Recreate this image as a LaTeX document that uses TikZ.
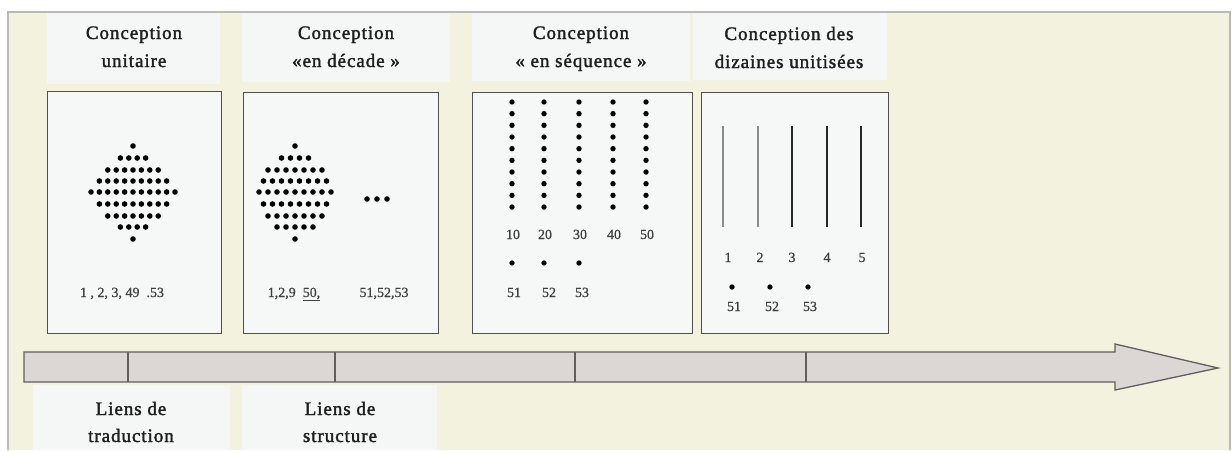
\documentclass[tikz,border=0pt]{standalone}
\usepackage{fontspec}
\setmainfont{Liberation Serif}
\newfontfamily\ttlfont{Liberation Serif}[LetterSpace=5,FakeBold=1.8]
\newfontfamily\lblfont{Liberation Serif}[FakeBold=0.8]
\definecolor{cream}{RGB}{243,242,222}
\definecolor{boxfill}{RGB}{245,247,246}
\definecolor{panelfill}{RGB}{246,248,247}
\definecolor{panelline}{RGB}{80,80,80}
\definecolor{framegrey}{RGB}{185,185,185}
\definecolor{arrowfill}{RGB}{220,214,212}
\definecolor{arrowline}{RGB}{95,95,95}
\begin{document}
\begin{tikzpicture}[x=1pt,y=-1pt,
  ttl/.style={anchor=base,inner sep=0pt,font=\ttlfont\fontsize{19}{22}\selectfont,text=black!88},
  lbl/.style={anchor=base,inner sep=0pt,font=\lblfont\fontsize{14}{16}\selectfont,text=black!75},
  hbox/.style={draw=none,fill=boxfill,inner sep=0pt,anchor=north west},
  panel/.style={draw=panelline,line width=1.3pt,fill=panelfill,inner sep=0pt,anchor=north west},
  dot/.style={fill=black},
  tick/.style={draw=arrowline,line width=1.3pt},
  thinbar/.style={draw=black!45,line width=1.6pt},
  thickbar/.style={draw=black!85,line width=2.4pt}]
\useasboundingbox (0,0) rectangle (1232,450);
% background and frame
\fill[white] (0,0) rectangle (1232,450);
\fill[cream] (8,12) rectangle (1230,450);
\draw[framegrey,line width=1.5pt] (8,450) -- (8,12) -- (1230,12) -- (1230,450);

% title boxes
\node[hbox,minimum width=173pt,minimum height=71pt] (t1) at (47,13) {};
\node[hbox,minimum width=208pt,minimum height=69pt] (t2) at (242,13) {};
\node[hbox,minimum width=218pt,minimum height=68pt] (t3) at (472,13) {};
\node[hbox,minimum width=194pt,minimum height=67pt] (t4) at (693,13) {};
\node[ttl] (t1a) at (134,39) {Conception};
\node[ttl] (t1b) at (134,67) {unitaire};
\node[ttl] (t2a) at (346,39) {Conception};
\node[ttl] (t2b) at (346,67) {«en décade »};
\node[ttl] (t3a) at (581,39) {Conception};
\node[ttl] (t3b) at (581,67) {« en séquence »};
\node[ttl] (t4a) at (789,40) {Conception des};
\node[ttl] (t4b) at (789,68) {dizaines unitisées};

% panels
\node[panel,minimum width=174pt,minimum height=242pt] (p1) at (47,91) {};
\node[panel,minimum width=195pt,minimum height=241pt] (p2) at (243,92) {};
\node[panel,minimum width=220pt,minimum height=241pt] (p3) at (472,92) {};
\node[panel,minimum width=187pt,minimum height=241pt] (p4) at (701,92) {};

% panel 1: diamond of dots
\foreach \yy/\n in {146/1,158/4,170/7,181/9,192/11,204/9,216/7,227/4,239/1}{
  \foreach \i in {1,...,\n}{
    \fill[dot] ({133+(\i-(\n+1)/2)*8.4},\yy) circle (2.8);
  }
}
\node[lbl] (l1) at (122,297) {1 , 2, 3, 49\ \ .53};

% panel 2: diamond and three dots
\foreach \yy/\n in {146/1,158/4,170/7,181/8,192/9,204/8,216/7,227/5,239/1}{
  \foreach \i in {1,...,\n}{
    \fill[dot] ({295+(\i-(\n+1)/2)*9},\yy) circle (2.8);
  }
}
\foreach \xx in {367,377,387}{ \fill[dot] (\xx,199) circle (2.8); }
\node[lbl] (l2a) at (294,297) {1,2,9\ \ \underline{50,}};
\node[lbl] (l2b) at (384,297) {51,52,53};

% panel 3: columns of ten
\foreach \cx/\t in {512/10,544/20,579/30,613/40,646/50}{
  \foreach \k in {0,...,9}{
    \fill[dot] (\cx,{102+\k*11.67}) circle (2.7);
  }
  \node[lbl] (n\t) at (\cx+1,239) {\t};
}
\foreach \cx in {512,544,579}{ \fill[dot] (\cx,263) circle (2.7); }
\node[lbl] (n51) at (514,297) {51};
\node[lbl] (n52) at (549,297) {52};
\node[lbl] (n53) at (582,297) {53};

% panel 4: bars of ten
\draw[thinbar] (723,126) -- (723,227);
\draw[thinbar] (758,126) -- (758,227);
\draw[thickbar] (792,126) -- (792,227);
\draw[thickbar] (827,126) -- (827,227);
\draw[thickbar] (861,126) -- (861,227);
\node[lbl] (b1) at (728,262) {1};
\node[lbl] (b2) at (760,262) {2};
\node[lbl] (b3) at (792,262) {3};
\node[lbl] (b4) at (827,262) {4};
\node[lbl] (b5) at (862,262) {5};
\foreach \cx in {732,770,808}{ \fill[dot] (\cx,287) circle (2.7); }
\node[lbl] (u51) at (734,311) {51};
\node[lbl] (u52) at (772,311) {52};
\node[lbl] (u53) at (810,311) {53};

% time arrow
\draw[draw=arrowline,fill=arrowfill,line width=1.3pt,line join=miter]
  (24,352) -- (1115,352) -- (1115,344) -- (1218,368) -- (1115,390) -- (1115,382) -- (24,382) -- cycle;
\foreach \tx in {128,335,575,806}{ \draw[tick] (\tx,352) -- (\tx,382); }

% bottom boxes
\node[hbox,minimum width=197pt,minimum height=65pt] (s1) at (33,385) {};
\node[hbox,minimum width=195pt,minimum height=65pt] (s2) at (242,385) {};
\node[ttl] (s1a) at (131,415) {Liens de};
\node[ttl] (s1b) at (131,442) {traduction};
\node[ttl] (s2a) at (340,415) {Liens de};
\node[ttl] (s2b) at (340,442) {structure};
\end{tikzpicture}
\end{document}
